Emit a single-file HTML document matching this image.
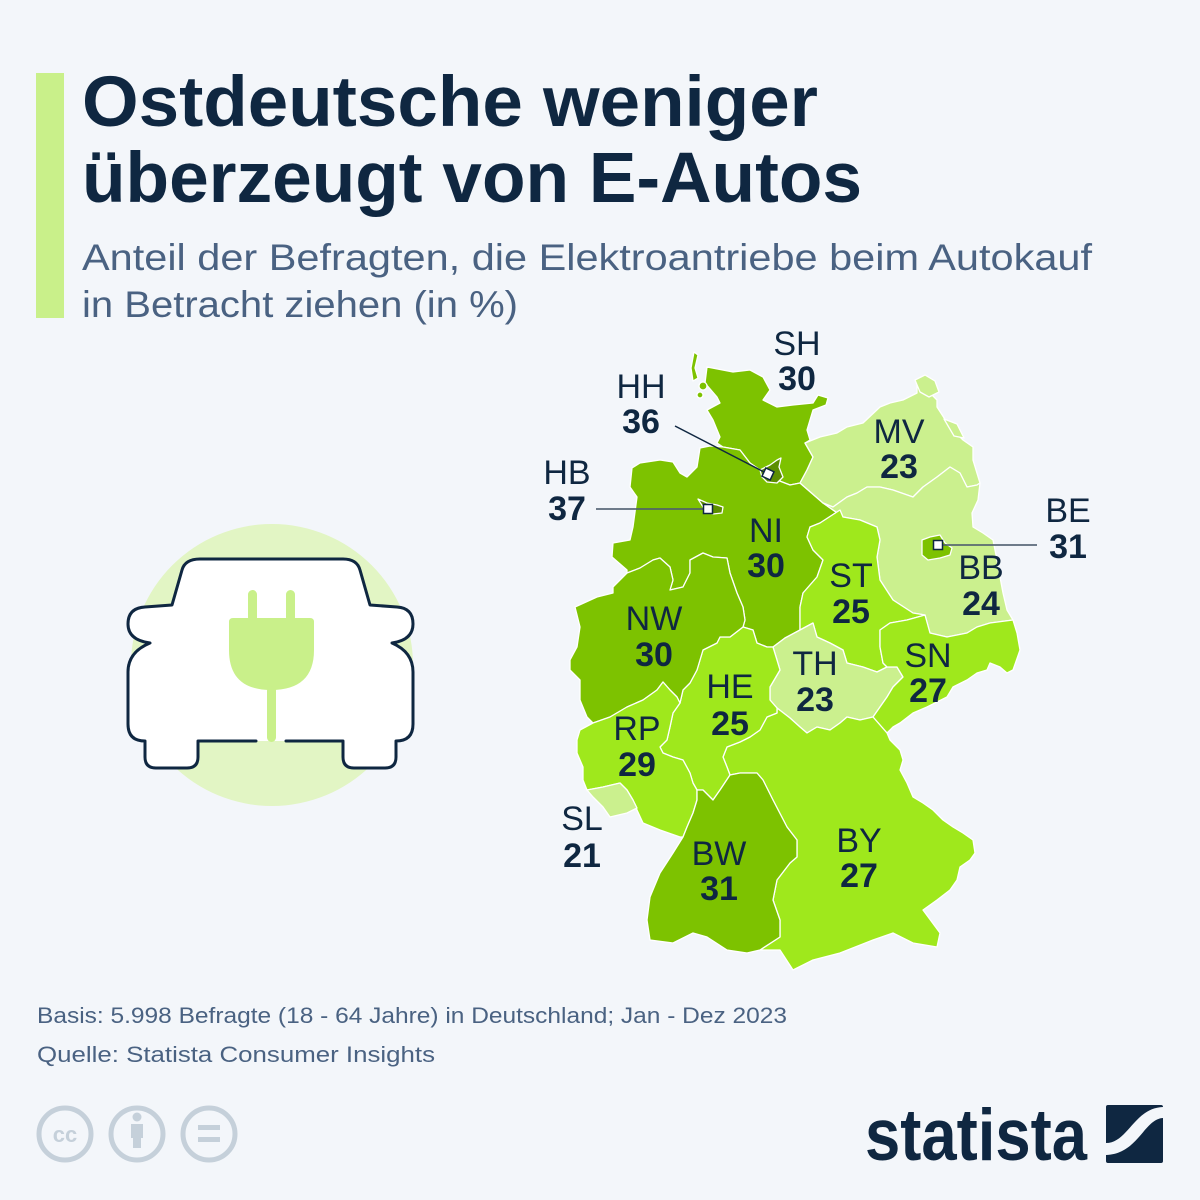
<!DOCTYPE html>
<html><head><meta charset="utf-8"><style>
html,body{margin:0;padding:0;background:#f3f6fa;}
svg{display:block;}
</style></head><body>
<svg width="1200" height="1200" viewBox="0 0 1200 1200" xmlns="http://www.w3.org/2000/svg" font-family="'Liberation Sans', Arial, sans-serif">
<rect width="1200" height="1200" fill="#f3f6fa"/>
<!-- accent bar -->
<rect x="36" y="73" width="28" height="245" fill="#c9f08a"/>
<!-- title -->
<text x="82" y="126" font-size="71" font-weight="bold" fill="#0f2741" textLength="736" lengthAdjust="spacingAndGlyphs">Ostdeutsche weniger</text>
<text x="82" y="202" font-size="71" font-weight="bold" fill="#0f2741" textLength="780" lengthAdjust="spacingAndGlyphs">überzeugt von E-Autos</text>
<text x="82" y="270" font-size="37" fill="#4a6282" textLength="1010" lengthAdjust="spacingAndGlyphs">Anteil der Befragten, die Elektroantriebe beim Autokauf</text>
<text x="82" y="317" font-size="37" fill="#4a6282" textLength="436" lengthAdjust="spacingAndGlyphs">in Betracht ziehen (in %)</text>

<!-- car icon -->
<circle cx="272" cy="665" r="141" fill="#e2f5c4"/>
<path d="M256,741 L198,741 L198,757 Q198,768 187,768 L156,768 Q145,768 145,757 L145,741 Q128,741 128,724 L128,672 Q128,652 150,643 Q128,640 128,624 Q128,608 145,607 L172,605 L182,570 Q185,559 200,559 L343,559 Q357,559 360,570 L370,605 L397,607 Q413,608 413,624 Q413,640 392,643 Q413,652 413,672 L413,724 Q413,741 396,741 L396,757 Q396,768 385,768 L354,768 Q343,768 343,757 L343,741 L286,741" fill="#ffffff" stroke="#0f2741" stroke-width="3" stroke-linejoin="round" stroke-linecap="round"/>
<rect x="248" y="590" width="9" height="32" rx="4.5" fill="#c9f08a"/>
<rect x="286" y="590" width="9" height="32" rx="4.5" fill="#c9f08a"/>
<path d="M233,618 L310,618 Q314,618 314,622 L314,650 Q314,690 271,690 Q229,690 229,650 L229,622 Q229,618 233,618 Z" fill="#c9f08a"/>
<rect x="267" y="686" width="9" height="56" rx="4.5" fill="#c9f08a"/>

<!-- map -->
<g stroke="#ffffff" stroke-width="1.3" stroke-linejoin="round">
<!-- SH -->
<path fill="#7dc200" d="M707,367 L733,372 L750,370 L763,377 L770,390 L763,400 L777,407 L793,405 L813,403 L818,395 L828,398 L826,405 L813,410 L807,430 L810,440 L805,443 L813,457 L807,470 L800,483 L790,485 L777,480 L768,478 L760,470 L750,463 L740,450 L723,447 L717,443 L720,437 L713,420 L707,410 L720,403 L717,397 L705,383 Z"/>
<path fill="#7dc200" d="M694,352 L698,355 L695,368 L698,378 L693,381 L691,368 Z"/>
<circle cx="703" cy="386" r="4" fill="#7dc200"/>
<circle cx="700" cy="395" r="3" fill="#7dc200"/>
<!-- NI -->
<path fill="#7dc200" d="M700,448 L697,467 L687,477 L680,473 L673,462 L660,460 L640,463 L632,468 L630,487 L637,497 L633,527 L630,540 L613,543 L612,557 L627,570 L627,573 L640,568 L653,560 L660,558 L670,567 L673,580 L670,590 L683,587 L690,573 L690,560 L703,553 L713,557 L727,558 L730,573 L737,593 L743,607 L745,620 L743,627 L753,630 L757,643 L767,647 L773,647 L785,638 L800,630 L800,607 L803,593 L817,577 L823,560 L813,550 L807,537 L810,527 L820,523 L840,510 L843,517 L823,503 L800,483 L790,485 L777,480 L768,478 L760,470 L750,463 L740,450 L723,447 L710,446 Z"/>
<!-- MV -->
<path fill="#cbf08e" d="M805,443 L820,437 L837,433 L847,427 L863,423 L880,407 L890,403 L903,400 L917,393 L917,385 L925,388 L937,400 L937,407 L950,427 L963,440 L973,447 L973,460 L980,483 L977,485 L967,487 L960,473 L950,467 L937,477 L923,487 L913,497 L893,490 L880,487 L867,487 L857,493 L847,497 L833,507 L823,503 L800,483 L807,470 L813,457 Z"/>
<path fill="#cbf08e" d="M915,380 L925,375 L935,381 L939,392 L929,397 L920,392 Z"/>
<path fill="#cbf08e" d="M944,419 L957,424 L964,438 L954,436 Z"/>
<!-- BB -->
<path fill="#cbf08e" d="M823,503 L833,507 L847,497 L857,493 L867,487 L880,487 L893,490 L913,497 L923,487 L937,477 L950,467 L960,473 L967,487 L977,485 L980,483 L978,500 L972,513 L973,527 L983,533 L993,540 L997,560 L1000,577 L1003,593 L1007,610 L1013,620 L990,623 L977,627 L967,633 L947,637 L930,633 L925,615 L913,613 L893,600 L880,580 L877,557 L880,540 L877,527 L860,520 L843,517 Z"/>
<!-- ST -->
<path fill="#9fe81c" d="M843,517 L860,520 L877,527 L880,540 L877,557 L880,580 L893,600 L913,613 L925,615 L907,620 L890,623 L880,630 L880,647 L883,663 L887,667 L877,672 L863,667 L847,663 L843,650 L830,643 L817,637 L813,623 L800,630 L800,607 L803,593 L817,577 L823,560 L813,550 L807,537 L810,527 L820,523 L840,510 Z"/>
<!-- TH -->
<path fill="#cbf08e" d="M800,630 L813,623 L817,637 L830,643 L843,650 L847,663 L863,667 L877,672 L887,667 L897,667 L903,677 L893,687 L887,697 L880,707 L873,717 L860,720 L847,717 L840,723 L830,730 L817,727 L807,733 L800,727 L790,718 L777,708 L770,700 L770,687 L780,670 L777,660 L773,647 L785,638 Z"/>
<!-- SN -->
<path fill="#9fe81c" d="M880,630 L890,623 L907,620 L925,615 L930,633 L947,637 L967,633 L977,627 L990,623 L1013,620 L1017,633 L1020,650 L1013,670 L1007,673 L1000,667 L990,663 L987,670 L977,673 L967,680 L953,687 L947,697 L927,707 L913,713 L900,723 L893,727 L887,733 L880,725 L873,717 L880,707 L887,697 L893,687 L903,677 L897,667 L887,667 L883,663 L880,647 Z"/>
<!-- BY -->
<path fill="#9fe81c" d="M887,733 L890,740 L900,750 L903,760 L900,770 L907,783 L913,797 L923,803 L933,810 L943,820 L953,827 L963,833 L973,840 L975,853 L970,860 L960,867 L957,880 L950,890 L937,900 L923,910 L940,933 L937,947 L913,943 L893,933 L873,940 L840,953 L813,960 L793,970 L780,950 L760,950 L780,937 L780,920 L773,900 L777,880 L790,863 L797,857 L797,840 L787,827 L773,800 L763,780 L757,773 L740,773 L730,775 L727,767 L723,757 L727,747 L740,742 L750,737 L760,730 L767,717 L777,713 L777,708 L790,718 L800,727 L807,733 L817,727 L830,730 L840,723 L847,717 L860,720 L873,717 L880,725 Z"/>
<!-- HE -->
<path fill="#9fe81c" d="M720,637 L730,637 L743,627 L753,630 L757,643 L767,647 L773,647 L777,660 L780,670 L770,687 L770,700 L777,708 L777,713 L767,717 L760,730 L750,737 L740,742 L727,747 L723,757 L727,767 L730,775 L720,790 L713,800 L703,790 L697,790 L693,783 L690,773 L683,760 L673,757 L663,753 L660,747 L667,740 L670,727 L673,713 L680,703 L683,690 L690,683 L697,670 L700,660 L703,650 L717,643 Z"/>
<!-- NW -->
<path fill="#7dc200" d="M575,607 L597,597 L613,593 L613,587 L627,573 L640,568 L653,560 L660,558 L670,567 L673,580 L670,590 L683,587 L690,573 L690,560 L703,553 L713,557 L727,558 L730,573 L737,593 L743,607 L745,620 L743,627 L730,637 L720,637 L717,643 L703,650 L700,660 L697,670 L690,683 L683,690 L680,703 L677,697 L670,690 L663,682 L657,690 L643,700 L627,707 L610,717 L593,723 L587,717 L580,700 L580,680 L570,670 L570,660 L577,647 L580,627 Z"/>
<!-- RP -->
<path fill="#9fe81c" d="M593,723 L610,717 L627,707 L643,700 L657,690 L663,682 L670,690 L677,697 L680,703 L673,713 L670,727 L667,740 L660,747 L663,753 L673,757 L683,760 L690,773 L693,783 L697,790 L697,800 L693,813 L687,827 L683,837 L680,837 L660,830 L643,823 L637,810 L633,800 L627,790 L620,783 L603,787 L587,790 L583,780 L583,767 L577,753 L577,740 L580,730 Z"/>
<!-- SL -->
<path fill="#cbf08e" d="M587,790 L603,787 L620,783 L627,790 L633,800 L637,808 L627,813 L610,817 L603,807 L593,797 Z"/>
<!-- BW -->
<path fill="#7dc200" d="M697,790 L703,790 L713,800 L720,790 L730,775 L740,773 L757,773 L763,780 L773,800 L787,827 L797,840 L797,857 L790,863 L777,880 L773,900 L780,920 L780,937 L760,950 L747,953 L727,950 L707,937 L693,933 L673,943 L650,940 L647,920 L650,897 L660,873 L673,853 L683,837 L687,827 L693,813 L697,800 Z"/>
<!-- HH, HB, BE -->
<path fill="#5c8e00" d="M760,470 L770,465 L777,460 L781,458 L779,467 L783,477 L777,483 L767,482 L762,477 Z"/>
<path fill="#5c8e00" d="M698,499 L707,503 L717,505 L723,507 L722,513 L713,514 L707,512 L703,507 Z"/>
<path fill="#7dc200" d="M922,540 L930,537 L940,535 L945,543 L952,548 L950,555 L940,558 L928,560 L922,555 Z"/>
</g>

<!-- leader lines -->
<line x1="675" y1="426" x2="766" y2="473" stroke="#0f2741" stroke-width="1.5"/>
<line x1="596" y1="509" x2="704" y2="509" stroke="#4c5d6e" stroke-width="2" stroke-opacity="0.8"/>
<line x1="942" y1="545" x2="1037" y2="545" stroke="#4c5d6e" stroke-width="2" stroke-opacity="0.8"/>
<rect x="763.5" y="469.5" width="9" height="9" fill="#fff" stroke="#0f2741" stroke-width="1.5" transform="rotate(25 768 474)"/>
<rect x="703.5" y="504.5" width="9" height="9" fill="#fff" stroke="#0f2741" stroke-width="1.5"/>
<rect x="933.5" y="540.5" width="9" height="9" fill="#fff" stroke="#0f2741" stroke-width="1.5"/>

<!-- labels -->
<g fill="#0f2741" font-size="34" text-anchor="middle">
<text x="797" y="355">SH</text>
<text x="641" y="398">HH</text>
<text x="567" y="484">HB</text>
<text x="899" y="443">MV</text>
<text x="1068" y="522">BE</text>
<text x="766" y="542">NI</text>
<text x="851" y="587">ST</text>
<text x="981" y="579">BB</text>
<text x="654" y="630">NW</text>
<text x="928" y="667">SN</text>
<text x="815" y="675">TH</text>
<text x="730" y="698">HE</text>
<text x="637" y="740">RP</text>
<text x="582" y="830">SL</text>
<text x="719" y="865">BW</text>
<text x="859" y="852">BY</text>
</g>
<g fill="#0f2741" font-size="34" font-weight="bold" text-anchor="middle">
<text x="797" y="390">30</text>
<text x="641" y="433">36</text>
<text x="567" y="520">37</text>
<text x="899" y="478">23</text>
<text x="1068" y="558">31</text>
<text x="766" y="577">30</text>
<text x="851" y="623">25</text>
<text x="981" y="615">24</text>
<text x="654" y="666">30</text>
<text x="928" y="702">27</text>
<text x="815" y="711">23</text>
<text x="730" y="735">25</text>
<text x="637" y="776">29</text>
<text x="582" y="867">21</text>
<text x="719" y="900">31</text>
<text x="859" y="887">27</text>
</g>

<!-- footer -->
<text x="37" y="1023" font-size="22" fill="#4a6282" textLength="750" lengthAdjust="spacingAndGlyphs">Basis: 5.998 Befragte (18 - 64 Jahre) in Deutschland; Jan - Dez 2023</text>
<text x="37" y="1062" font-size="22" fill="#4a6282" textLength="398" lengthAdjust="spacingAndGlyphs">Quelle: Statista Consumer Insights</text>

<!-- CC icons -->
<g stroke="#c5d0da" stroke-width="5" fill="none">
<circle cx="65" cy="1134" r="26"/>
<circle cx="137" cy="1134" r="26"/>
<circle cx="209" cy="1134" r="26"/>
</g>
<text x="65" y="1142" font-size="22" font-weight="bold" fill="#c5d0da" text-anchor="middle">cc</text>
<circle cx="137" cy="1117" r="4.5" fill="#c5d0da"/>
<rect x="131" y="1124" width="12" height="14" fill="#c5d0da"/>
<rect x="133" y="1136" width="8" height="12" fill="#c5d0da"/>
<rect x="198" y="1125" width="22" height="5" fill="#c5d0da"/>
<rect x="198" y="1137" width="22" height="5" fill="#c5d0da"/>

<!-- statista logo -->
<text x="865" y="1160" font-size="73" font-weight="bold" fill="#0f2741" textLength="222" lengthAdjust="spacingAndGlyphs">statista</text>
<rect x="1106" y="1105" width="57" height="58" rx="2" fill="#0f2741"/>
<path d="M1106,1143 C1128,1143 1134,1108 1163,1107 L1163,1118 C1144,1119 1138,1154 1106,1155 Z" fill="#f3f6fa"/>
</svg>
</body></html>
